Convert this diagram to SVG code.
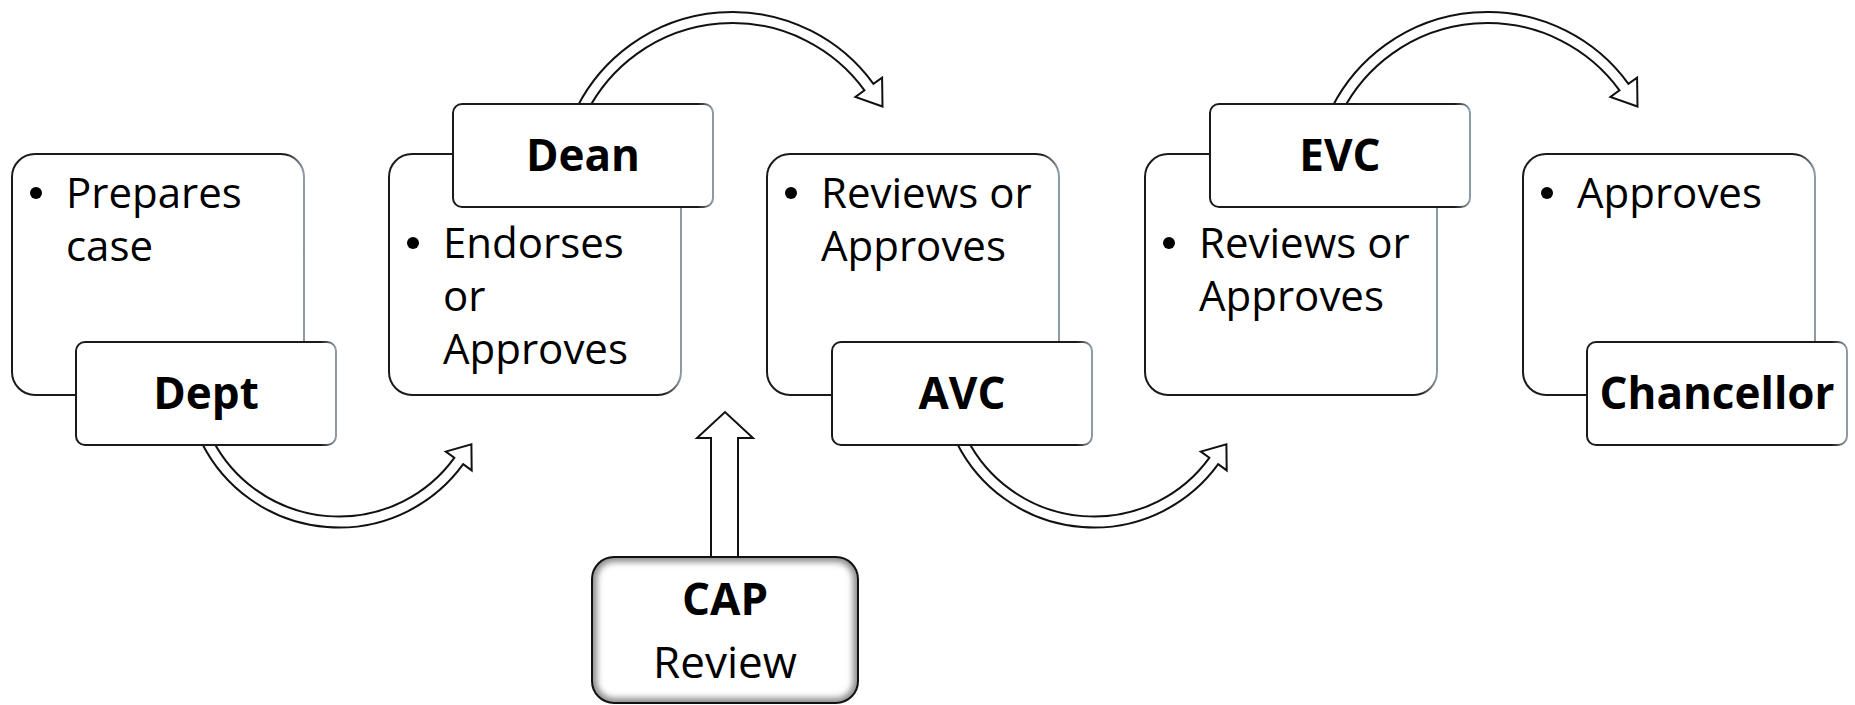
<svg xmlns="http://www.w3.org/2000/svg" width="1855" height="705" viewBox="0 0 1855 705">
<defs>
<linearGradient id="edge" x1="0" y1="0" x2="1" y2="0">
<stop offset="0" stop-color="#1a1a1a"/>
<stop offset="0.94" stop-color="#1a1a1a"/>
<stop offset="1" stop-color="#8f9ca6"/>
</linearGradient>
<clipPath id="capClip"><rect x="592" y="557" width="266" height="146" rx="22"/></clipPath>
<filter id="blur" x="-10%" y="-10%" width="120%" height="120%"><feGaussianBlur stdDeviation="3"/></filter>
<style>
.box{fill:#fff;stroke:url(#edge);stroke-width:2}
.lbl{fill:#fff;stroke:url(#edge);stroke-width:2}
.arr{fill:#fff;stroke:#111;stroke-width:2;stroke-linejoin:miter}
.t{font-family:"Open Sans","Noto Sans","DejaVu Sans",sans-serif;font-size:42px;fill:#000}
.b{font-family:"Open Sans","Noto Sans","DejaVu Sans",sans-serif;font-size:44px;font-weight:bold;fill:#000;text-anchor:middle}
.r{font-family:"Open Sans","Noto Sans","DejaVu Sans",sans-serif;font-size:44px;fill:#000;text-anchor:middle}
</style>
</defs>
<rect width="1855" height="705" fill="#fff"/>
<g id="connectors">
<path id="a1" class="arr" d="M202.2 443.7 A153.5 153.5 0 0 0 463.2 464.2 L471.7 470.4 L471.4 444.4 L445.8 451.6 L454.3 457.8 A142.5 142.5 0 0 1 212 438.7 Z"/>
<path id="a3" class="arr" transform="translate(755 0)" d="M202.2 443.7 A153.5 153.5 0 0 0 463.2 464.2 L471.7 470.4 L471.4 444.4 L445.8 451.6 L454.3 457.8 A142.5 142.5 0 0 1 212 438.7 Z"/>
<path id="a2" class="arr" d="M577.1 107.2 A174.3 174.3 0 0 1 873.4 83.8 L882.1 77.6 L882.5 106.5 L855.4 97 L864.5 90.3 A163.3 163.3 0 0 0 586.9 112.2 Z"/>
<path id="a4" class="arr" transform="translate(755 0)" d="M577.1 107.2 A174.3 174.3 0 0 1 873.4 83.8 L882.1 77.6 L882.5 106.5 L855.4 97 L864.5 90.3 A163.3 163.3 0 0 0 586.9 112.2 Z"/>
<polygon id="a5" class="arr" points="711,562 711,438 697,438 725,412 753,438 738,438 738,562"/>
</g>
<g id="dept">
<rect class="box" x="12" y="154" width="292" height="241" rx="23"/>
<circle cx="36" cy="193" r="6"/>
<text class="t" x="66" y="208">Prepares</text>
<text class="t" x="66" y="261">case</text>
<rect class="lbl" x="76" y="342" width="260" height="103" rx="9"/>
<text class="b" x="206" y="409">Dept</text>
</g>
<g id="dean">
<rect class="box" x="389" y="154" width="292" height="241" rx="23"/>
<circle cx="413" cy="243" r="6"/>
<text class="t" x="443" y="258">Endorses</text>
<text class="t" x="443" y="311">or</text>
<text class="t" x="443" y="364">Approves</text>
<rect class="lbl" x="453" y="104" width="260" height="103" rx="9"/>
<text class="b" x="583" y="171">Dean</text>
</g>
<g id="avc">
<rect class="box" x="767" y="154" width="292" height="241" rx="23"/>
<circle cx="791" cy="193" r="6"/>
<text class="t" x="821" y="208">Reviews or</text>
<text class="t" x="821" y="261">Approves</text>
<rect class="lbl" x="832" y="342" width="260" height="103" rx="9"/>
<text class="b" x="962" y="409">AVC</text>
</g>
<g id="evc">
<rect class="box" x="1145" y="154" width="292" height="241" rx="23"/>
<circle cx="1169" cy="243" r="6"/>
<text class="t" x="1199" y="258">Reviews or</text>
<text class="t" x="1199" y="311">Approves</text>
<rect class="lbl" x="1210" y="104" width="260" height="103" rx="9"/>
<text class="b" x="1340" y="171">EVC</text>
</g>
<g id="chancellor">
<rect class="box" x="1523" y="154" width="292" height="241" rx="23"/>
<circle cx="1547" cy="193" r="6"/>
<text class="t" x="1577" y="208">Approves</text>
<rect class="lbl" x="1587" y="342" width="260" height="103" rx="9"/>
<text class="b" x="1717" y="409">Chancellor</text>
</g>
<g id="cap">
<rect x="592" y="557" width="266" height="146" rx="22" fill="#fff"/>
<g clip-path="url(#capClip)"><rect x="592" y="557" width="266" height="146" rx="22" fill="none" stroke="#8a8a8a" stroke-width="10" filter="url(#blur)"/></g>
<rect x="592" y="557" width="266" height="146" rx="22" fill="none" stroke="#111" stroke-width="2"/>
<text class="b" x="725" y="615">CAP</text>
<text class="r" x="725" y="678">Review</text>
</g>
</svg>
